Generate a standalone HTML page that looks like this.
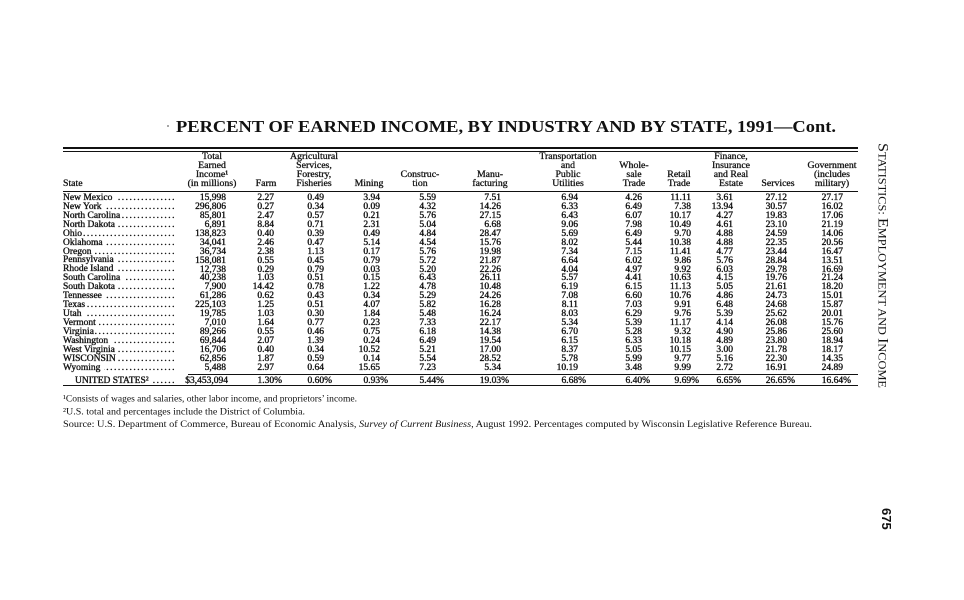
<!DOCTYPE html>
<html>
<head>
<meta charset="utf-8">
<style>
html,body{margin:0;padding:0;}
body{width:964px;height:600px;overflow:hidden;background:#fff;color:#111;font-family:"Liberation Serif",serif;position:relative;}
.rule{position:absolute;background:#111;}
.c{position:absolute;top:193.9px;line-height:8.95px;font-size:9.5px;text-align:right;white-space:nowrap;-webkit-text-stroke:0.35px #111;}
.u{position:absolute;top:376.9px;line-height:9px;font-size:9.5px;text-align:right;white-space:nowrap;-webkit-text-stroke:0.35px #111;}
.h{position:absolute;bottom:412.5px;width:100px;text-align:center;line-height:9px;font-size:9.8px;white-space:nowrap;-webkit-text-stroke:0.3px #111;}
#st{position:absolute;left:63px;top:193.9px;width:113px;font-size:9.5px;-webkit-text-stroke:0.35px #111;}
.s{display:flex;height:8.95px;line-height:8.95px;white-space:nowrap;}
.s span{flex:none;}
.s i{flex:1;min-width:0;overflow:hidden;direction:rtl;font-style:normal;letter-spacing:1.5px;margin-left:1px;}
.s i::before{content:"............................................................";}
svg{position:absolute;left:0;top:0;}
</style>
</head>
<body>

<svg width="964" height="600" xmlns="http://www.w3.org/2000/svg">
  <circle cx="168" cy="126" r="0.9" fill="#666"/>
  <text x="176" y="132" font-family="Liberation Serif, serif" font-weight="bold" font-size="17" fill="#111" textLength="660" lengthAdjust="spacingAndGlyphs">PERCENT OF EARNED INCOME, BY INDUSTRY AND BY STATE, 1991—Cont.</text>

  <text x="63" y="401.5" font-family="Liberation Serif, serif" font-size="9.5" fill="#111" textLength="294" lengthAdjust="spacingAndGlyphs">¹Consists of wages and salaries, other labor income, and proprietors’ income.</text>
  <text x="63" y="414.5" font-family="Liberation Serif, serif" font-size="9.5" fill="#111" textLength="242" lengthAdjust="spacingAndGlyphs">²U.S. total and percentages include the District of Columbia.</text>
  <text x="63" y="427" font-family="Liberation Serif, serif" font-size="9.8" fill="#111" textLength="749" lengthAdjust="spacingAndGlyphs">Source: U.S. Department of Commerce, Bureau of Economic Analysis, <tspan font-style="italic">Survey of Current Business</tspan>, August 1992.  Percentages computed by Wisconsin Legislative Reference Bureau.</text>

  <text transform="translate(878.5,143) rotate(90)" font-family="Liberation Serif, serif" font-size="15" fill="#111" textLength="245" lengthAdjust="spacingAndGlyphs">S<tspan font-size="11.5">TATISTICS: </tspan>E<tspan font-size="11.5">MPLOYMENT AND </tspan>I<tspan font-size="11.5">NCOME</tspan></text>

  <text transform="translate(882,508) rotate(90)" font-family="Liberation Sans, sans-serif" font-weight="bold" font-size="13" fill="#111">675</text>
</svg>

<!-- rules -->
<div class="rule" style="left:63px;top:146.5px;width:795px;height:2.5px;"></div>
<div class="rule" style="left:63px;top:151px;width:795px;height:1px;"></div>
<div class="rule" style="left:63px;top:191px;width:795px;height:1px;"></div>
<div class="rule" style="left:188px;top:373.5px;width:670px;height:1px;"></div>
<div class="rule" style="left:63px;top:384.5px;width:795px;height:1.8px;"></div>

<!-- headers -->
<div class="h" style="left:63px;text-align:left;">State</div>
<div class="h" style="left:162px;">Total<br>Earned<br>Income¹<br>(in millions)</div>
<div class="h" style="left:216px;">Farm</div>
<div class="h" style="left:264px;">Agricultural<br>Services,<br>Forestry,<br>Fisheries</div>
<div class="h" style="left:319px;">Mining</div>
<div class="h" style="left:370px;">Construc-<br>tion</div>
<div class="h" style="left:440px;">Manu-<br>facturing</div>
<div class="h" style="left:518px;">Transportation<br>and<br>Public<br>Utilities</div>
<div class="h" style="left:584px;">Whole-<br>sale<br>Trade</div>
<div class="h" style="left:629px;">Retail<br>Trade</div>
<div class="h" style="left:681px;">Finance,<br>Insurance<br>and Real<br>Estate</div>
<div class="h" style="left:728px;">Services</div>
<div class="h" style="left:782px;">Government<br>(includes<br>military)</div>

<!-- state names -->
<div id="st">
<div class="s"><span>New Mexico&nbsp;</span><i></i></div>
<div class="s"><span>New York&nbsp;</span><i></i></div>
<div class="s"><span>North Carolina</span><i></i></div>
<div class="s"><span>North Dakota</span><i></i></div>
<div class="s"><span>Ohio</span><i></i></div>
<div class="s"><span>Oklahoma&nbsp;</span><i></i></div>
<div class="s"><span>Oregon</span><i></i></div>
<div class="s"><span>Pennsylvania&nbsp;</span><i></i></div>
<div class="s"><span>Rhode Island&nbsp;</span><i></i></div>
<div class="s"><span>South Carolina&nbsp;</span><i></i></div>
<div class="s"><span>South Dakota</span><i></i></div>
<div class="s"><span>Tennessee&nbsp;</span><i></i></div>
<div class="s"><span>Texas</span><i></i></div>
<div class="s"><span>Utah&nbsp;</span><i></i></div>
<div class="s"><span>Vermont&nbsp;</span><i></i></div>
<div class="s"><span>Virginia</span><i></i></div>
<div class="s"><span>Washington&nbsp;</span><i></i></div>
<div class="s"><span>West Virginia&nbsp;</span><i></i></div>
<div class="s"><span>WISCONSIN</span><i></i></div>
<div class="s"><span>Wyoming&nbsp;</span><i></i></div>
</div>

<!-- data columns -->
<div class="c" style="right:738px;">15,998<br>296,806<br>85,801<br>6,891<br>138,823<br>34,041<br>36,734<br>158,081<br>12,738<br>40,238<br>7,900<br>61,286<br>225,103<br>19,785<br>7,010<br>89,266<br>69,844<br>16,706<br>62,856<br>5,488</div>
<div class="c" style="right:690px;">2.27<br>0.27<br>2.47<br>8.84<br>0.40<br>2.46<br>2.38<br>0.55<br>0.29<br>1.03<br>14.42<br>0.62<br>1.25<br>1.03<br>1.64<br>0.55<br>2.07<br>0.40<br>1.87<br>2.97</div>
<div class="c" style="right:640px;">0.49<br>0.34<br>0.57<br>0.71<br>0.39<br>0.47<br>1.13<br>0.45<br>0.79<br>0.51<br>0.78<br>0.43<br>0.51<br>0.30<br>0.77<br>0.46<br>1.39<br>0.34<br>0.59<br>0.64</div>
<div class="c" style="right:584px;">3.94<br>0.09<br>0.21<br>2.31<br>0.49<br>5.14<br>0.17<br>0.79<br>0.03<br>0.15<br>1.22<br>0.34<br>4.07<br>1.84<br>0.23<br>0.75<br>0.24<br>10.52<br>0.14<br>15.65</div>
<div class="c" style="right:528px;">5.59<br>4.32<br>5.76<br>5.04<br>4.84<br>4.54<br>5.76<br>5.72<br>5.20<br>6.43<br>4.78<br>5.29<br>5.82<br>5.48<br>7.33<br>6.18<br>6.49<br>5.21<br>5.54<br>7.23</div>
<div class="c" style="right:463px;">7.51<br>14.26<br>27.15<br>6.68<br>28.47<br>15.76<br>19.98<br>21.87<br>22.26<br>26.11<br>10.48<br>24.26<br>16.28<br>16.24<br>22.17<br>14.38<br>19.54<br>17.00<br>28.52<br>5.34</div>
<div class="c" style="right:386px;">6.94<br>6.33<br>6.43<br>9.06<br>5.69<br>8.02<br>7.34<br>6.64<br>4.04<br>5.57<br>6.19<br>7.08<br>8.11<br>8.03<br>5.34<br>6.70<br>6.15<br>8.37<br>5.78<br>10.19</div>
<div class="c" style="right:322px;">4.26<br>6.49<br>6.07<br>7.98<br>6.49<br>5.44<br>7.15<br>6.02<br>4.97<br>4.41<br>6.15<br>6.60<br>7.03<br>6.29<br>5.39<br>5.28<br>6.33<br>5.05<br>5.99<br>3.48</div>
<div class="c" style="right:273px;">11.11<br>7.38<br>10.17<br>10.49<br>9.70<br>10.38<br>11.41<br>9.86<br>9.92<br>10.63<br>11.13<br>10.76<br>9.91<br>9.76<br>11.17<br>9.32<br>10.18<br>10.15<br>9.77<br>9.99</div>
<div class="c" style="right:231px;">3.61<br>13.94<br>4.27<br>4.61<br>4.88<br>4.88<br>4.77<br>5.76<br>6.03<br>4.15<br>5.05<br>4.86<br>6.48<br>5.39<br>4.14<br>4.90<br>4.89<br>3.00<br>5.16<br>2.72</div>
<div class="c" style="right:177px;">27.12<br>30.57<br>19.83<br>23.10<br>24.59<br>22.35<br>23.44<br>28.84<br>29.78<br>19.76<br>21.61<br>24.73<br>24.68<br>25.62<br>26.08<br>25.86<br>23.80<br>21.78<br>22.30<br>16.91</div>
<div class="c" style="right:121px;">27.17<br>16.02<br>17.06<br>21.19<br>14.06<br>20.56<br>16.47<br>13.51<br>16.69<br>21.24<br>18.20<br>15.01<br>15.87<br>20.01<br>15.76<br>25.60<br>18.94<br>18.17<br>14.35<br>24.89</div>

<!-- United States row -->
<div style="position:absolute;left:75px;top:376.9px;width:101px;font-size:9.5px;-webkit-text-stroke:0.35px #111;">
  <div class="s" style="height:9px;line-height:9px;"><span>UNITED STATES²&nbsp;</span><i></i></div>
</div>
<div class="u" style="right:736px;">$3,453,094</div>
<div class="u" style="right:682px;">1.30%</div>
<div class="u" style="right:632px;">0.60%</div>
<div class="u" style="right:576px;">0.93%</div>
<div class="u" style="right:520px;">5.44%</div>
<div class="u" style="right:455px;">19.03%</div>
<div class="u" style="right:378px;">6.68%</div>
<div class="u" style="right:314px;">6.40%</div>
<div class="u" style="right:265px;">9.69%</div>
<div class="u" style="right:223px;">6.65%</div>
<div class="u" style="right:169px;">26.65%</div>
<div class="u" style="right:113px;">16.64%</div>

</body>
</html>
